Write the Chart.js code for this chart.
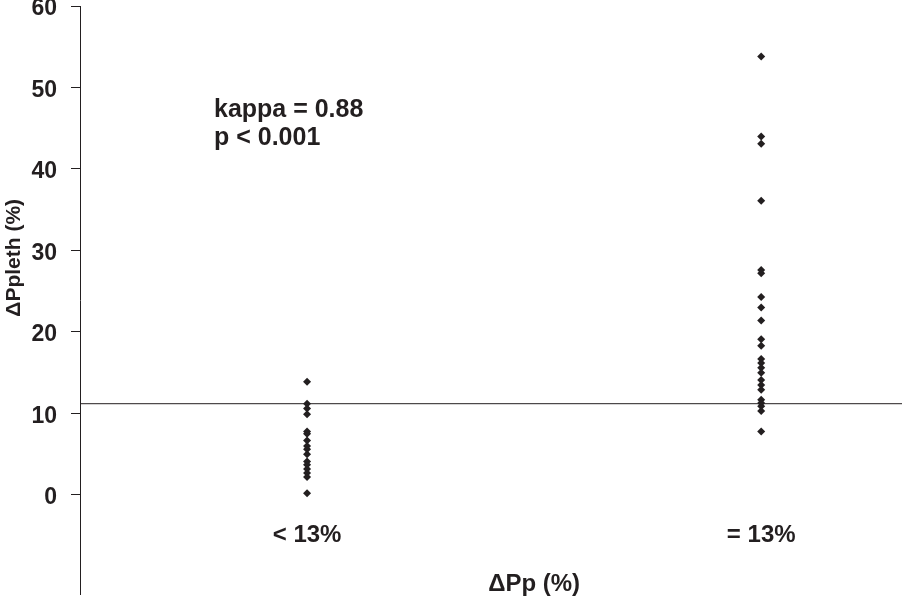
<!doctype html>
<html lang="en">
<head>
    <meta charset="utf-8">
    <title>ΔPpleth vs ΔPp</title>
    <style>
        html, body { margin: 0; padding: 0; background: #fff; }
        #container { width: 906px; height: 598px; }
    </style>
</head>
<body>
    <div id="container"><canvas id="chart"></canvas></div>

    <script src="https://cdn.jsdelivr.net/npm/chart.js@4.4.1/dist/chart.umd.min.js"></script>
    <script>
        const CATEGORIES = ["< 13%", "= 13%"];
        const LOW_GROUP = [13.9, 11.2, 10.6, 9.9, 7.8, 7.5, 6.7, 6.0, 5.6, 5.0, 4.1, 3.7, 3.2, 2.7, 2.2, 0.2];
        const HIGH_GROUP = [53.8, 44.0, 43.1, 36.1, 27.6, 27.2, 24.3, 23.0, 21.4, 19.1, 18.3, 16.7, 16.2, 15.6, 15.0, 14.1, 13.5, 12.9, 11.7, 11.3, 10.9, 10.3, 7.8];
        const Y_TICKS = [0, 10, 20, 30, 40, 50, 60];
        const THRESHOLD = 11.2;
        const NOTE_LINES = ["kappa = 0.88", "p < 0.001"];
        const Y_TITLE = "ΔPpleth (%)";
        const X_TITLE = "ΔPp (%)";

        const INK = "#231f20";
        const FONT = "'Liberation Sans', Arial, sans-serif";
        const X_MIN = 0.5, X_MAX = 2.31;
        const Y_MIN = -12.15, Y_MAX = 60;

        const toPoints = (values, idx) => values.map(v => ({ x: idx + 1, y: v }));
        const noPad = s => { s.paddingTop = 0; s.paddingBottom = 0; s.paddingLeft = 0; s.paddingRight = 0; };

        // axis titles and the kappa note
        const textPlugin = {
            id: "textPlugin",
            afterDraw(chart) {
                const { ctx, scales: { x, y } } = chart;
                ctx.save();
                ctx.fillStyle = INK;
                ctx.font = `bold 25px ${FONT}`;
                ctx.textAlign = "left";
                ctx.textBaseline = "alphabetic";
                NOTE_LINES.forEach((line, i) => {
                    ctx.fillText(line, x.getPixelForValue(0.795), y.getPixelForValue(46.4 - i * 3.45));
                });
                ctx.font = `bold 24px ${FONT}`;
                ctx.textAlign = "center";
                ctx.fillText(X_TITLE, x.getPixelForValue(1.5), y.getPixelForValue(-11.8));
                ctx.font = `bold 21px ${FONT}`;
                ctx.textBaseline = "middle";
                ctx.translate(14, y.getPixelForValue(29.1));
                ctx.rotate(-Math.PI / 2);
                ctx.fillText(Y_TITLE, 0, 0);
                ctx.restore();
            }
        };

        const config = {
            type: "scatter",
            data: {
                datasets: [
                    {
                        data: toPoints(LOW_GROUP, 0),
                        pointStyle: "rectRot",
                        pointRadius: 4,
                        backgroundColor: INK,
                        borderColor: INK,
                        borderWidth: 0
                    },
                    {
                        data: toPoints(HIGH_GROUP, 1),
                        pointStyle: "rectRot",
                        pointRadius: 4,
                        backgroundColor: INK,
                        borderColor: INK,
                        borderWidth: 0
                    },
                    {
                        type: "line",
                        data: [{ x: X_MIN, y: THRESHOLD }, { x: X_MAX, y: THRESHOLD }],
                        borderColor: INK,
                        borderWidth: 1,
                        pointRadius: 0
                    }
                ]
            },
            options: {
                responsive: true,
                maintainAspectRatio: false,
                animation: false,
                layout: { padding: { top: 6, right: 0, bottom: 0, left: 0 } },
                scales: {
                    x: {
                        type: "linear",
                        min: X_MIN,
                        max: X_MAX,
                        position: { y: -1.23 },
                        afterBuildTicks: s => { s.ticks = CATEGORIES.map((c, i) => ({ value: i + 1 })); },
                        afterFit: s => { noPad(s); s.height = 0; },
                        ticks: {
                            color: INK,
                            font: { family: FONT, size: 24, weight: "bold" },
                            callback: v => CATEGORIES[v - 1],
                            maxRotation: 0,
                            padding: 8
                        },
                        grid: { display: false },
                        border: { display: false }
                    },
                    y: {
                        min: Y_MIN,
                        max: Y_MAX,
                        afterBuildTicks: s => { s.ticks = Y_TICKS.map(v => ({ value: v })); },
                        afterFit: s => { noPad(s); s.width = 80; },
                        ticks: {
                            color: INK,
                            font: { family: FONT, size: 23, weight: "bold" },
                            padding: 14,
                            labelOffset: 3
                        },
                        grid: {
                            drawOnChartArea: false,
                            tickLength: 9,
                            tickColor: INK,
                            tickWidth: 1
                        },
                        border: { color: INK, width: 1 }
                    }
                },
                plugins: {
                    legend: { display: false },
                    tooltip: { enabled: false }
                }
            },
            plugins: [textPlugin]
        };
        const chart = new Chart("chart", config);
    </script>
</body>
</html>
